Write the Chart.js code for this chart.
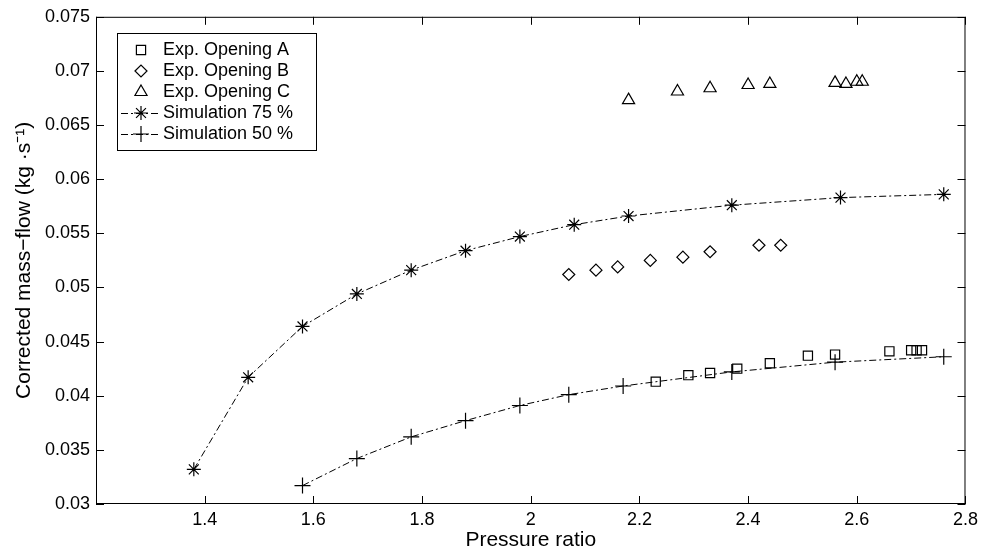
<!DOCTYPE html>
<html>
<head>
<meta charset="utf-8">
<script src="https://cdn.jsdelivr.net/npm/chart.js@4.4.1/dist/chart.umd.min.js"></script>
<style>
  html, body { margin: 0; padding: 0; background: #fff; }
  #wrap { width: 983px; height: 553px; }
</style>
</head>
<body>
<div id="wrap"><canvas id="chart"></canvas></div>
<script>
// pressure ratio / corrected mass-flow
const expAX = [2.23, 2.29, 2.33, 2.38, 2.44, 2.51, 2.56, 2.66, 2.70, 2.71, 2.72];
const expAY = [0.0413, 0.0419, 0.0421, 0.0425, 0.0430, 0.0437, 0.0438, 0.0441, 0.0442, 0.0442, 0.0442];

const expBX = [2.07, 2.12, 2.16, 2.22, 2.28, 2.33, 2.42, 2.46];
const expBY = [0.0512, 0.0516, 0.0519, 0.0525, 0.0528, 0.0533, 0.0539, 0.0539];

const expCX = [2.18, 2.27, 2.33, 2.40, 2.44, 2.56, 2.58, 2.60, 2.61];
const expCY = [0.0673, 0.0681, 0.0684, 0.0687, 0.0688, 0.0689, 0.0688, 0.0690, 0.0690];

const sim75X = [1.38, 1.48, 1.58, 1.68, 1.78, 1.88, 1.98, 2.08, 2.18, 2.37, 2.57, 2.76];
const sim75Y = [0.0332, 0.0417, 0.0464, 0.0494, 0.0516, 0.0534, 0.0547, 0.0558, 0.0566, 0.0576, 0.0583, 0.0586];

const sim50X = [1.58, 1.68, 1.78, 1.88, 1.98, 2.07, 2.17, 2.37, 2.56, 2.76];
const sim50Y = [0.0317, 0.0342, 0.0362, 0.0377, 0.0391, 0.0401, 0.0409, 0.0422, 0.0431, 0.0436];

const seriesLabels = ['Exp. Opening A', 'Exp. Opening B', 'Exp. Opening C', 'Simulation 75 %', 'Simulation 50 %'];

const FONT = '"Liberation Sans", Arial, Helvetica, sans-serif';
const TICK_LEN = 8;

function pts(xs, ys) {
  return xs.map((x, i) => ({ x: x, y: ys[i] }));
}

function series(label, data, style, radius, line) {
  return {
    label: label,
    data: data,
    showLine: line,
    borderColor: '#000',
    borderWidth: 1,
    borderDash: [7, 3, 2, 3],
    backgroundColor: 'rgba(0,0,0,0)',
    pointStyle: style,
    pointRadius: radius,
    pointHoverRadius: radius,
    pointBorderWidth: 1.2,
    pointBorderColor: '#000',
    pointBackgroundColor: 'rgba(0,0,0,0)',
    tension: 0
  };
}

// box round the plot with inward ticks on all four sides
const boxTicks = {
  id: 'boxTicks',
  afterDraw(chart) {
    const { ctx, chartArea: a, scales: { x, y } } = chart;
    ctx.save();
    ctx.strokeStyle = '#000';
    ctx.lineWidth = 1;
    ctx.setLineDash([]);
    ctx.strokeRect(a.left + 0.5, a.top + 0.5, a.right - a.left - 1, a.bottom - a.top - 1);
    ctx.beginPath();
    x.ticks.forEach(t => {
      const px = Math.round(x.getPixelForValue(t.value)) + 0.5;
      ctx.moveTo(px, a.bottom); ctx.lineTo(px, a.bottom - TICK_LEN);
      ctx.moveTo(px, a.top); ctx.lineTo(px, a.top + TICK_LEN);
    });
    y.ticks.forEach(t => {
      const py = Math.round(y.getPixelForValue(t.value)) + 0.5;
      ctx.moveTo(a.left, py); ctx.lineTo(a.left + TICK_LEN, py);
      ctx.moveTo(a.right, py); ctx.lineTo(a.right - TICK_LEN, py);
    });
    ctx.stroke();
    ctx.restore();
  }
};

// legend box in the upper left corner, like the matlab one
const boxLegend = {
  id: 'boxLegend',
  afterDraw(chart) {
    const ctx = chart.ctx;
    const left = 117, top = 33, width = 199, rowH = 21;
    const sets = chart.data.datasets;
    ctx.save();
    ctx.fillStyle = '#fff';
    ctx.fillRect(left, top, width, sets.length * rowH + 12);
    ctx.strokeStyle = '#000';
    ctx.lineWidth = 1;
    ctx.strokeRect(left + 0.5, top + 0.5, width, sets.length * rowH + 12);
    sets.forEach((ds, i) => {
      const cy = top + 17 + i * rowH;
      ctx.strokeStyle = '#000';
      if (ds.showLine) {
        ctx.lineWidth = 1;
        ctx.setLineDash(ds.borderDash);
        ctx.beginPath();
        ctx.moveTo(left + 4, cy + 0.5);
        ctx.lineTo(left + 44, cy + 0.5);
        ctx.stroke();
      }
      ctx.setLineDash([]);
      ctx.lineWidth = ds.pointBorderWidth;
      ctx.fillStyle = 'rgba(0,0,0,0)';
      Chart.helpers.drawPoint(ctx, {
        pointStyle: ds.pointStyle,
        radius: ds.pointRadius,
        borderWidth: ds.pointBorderWidth,
        rotation: 0
      }, left + 24, cy);
      ctx.fillStyle = '#000';
      ctx.font = '18px ' + FONT;
      ctx.textBaseline = 'middle';
      ctx.textAlign = 'left';
      ctx.fillText(ds.label, left + 46, cy);
    });
    ctx.restore();
  }
};

new Chart(document.getElementById('chart').getContext('2d'), {
  type: 'scatter',
  data: {
    datasets: [
      series(seriesLabels[0], pts(expAX, expAY), 'rect', 6.5, false),
      series(seriesLabels[1], pts(expBX, expBY), 'rectRot', 6, false),
      series(seriesLabels[2], pts(expCX, expCY), 'triangle', 7, false),
      series(seriesLabels[3], pts(sim75X, sim75Y), 'star', 7, true),
      series(seriesLabels[4], pts(sim50X, sim50Y), 'cross', 8, true)
    ]
  },
  options: {
    responsive: true, maintainAspectRatio: false,
    animation: false,
    layout: { padding: { top: 12, right: 17, left: 0, bottom: 0 } },
    plugins: { legend: { display: false }, tooltip: { enabled: false } },
    scales: {
      x: {
        type: 'linear',
        min: 1.2, max: 2.8,
        afterFit(scale) { scale.height = 49; },
        grid: { drawOnChartArea: false, drawTicks: false },
        border: { display: false },
        ticks: {
          stepSize: 0.2,
          padding: 5,
          color: '#000',
          font: { family: FONT, size: 18 },
          maxRotation: 0,
          callback: v => (Math.abs(v - 1.2) < 1e-6 ? '' : String(Math.round(v * 10) / 10))
        },
        title: {
          display: true,
          text: 'Pressure ratio',
          color: '#000',
          font: { family: FONT, size: 21 },
          padding: { top: 0, bottom: 0 }
        }
      },
      y: {
        type: 'linear',
        min: 0.03, max: 0.075,
        afterFit(scale) { scale.width = 96; },
        grid: { drawOnChartArea: false, drawTicks: false },
        border: { display: false },
        ticks: {
          stepSize: 0.005,
          padding: 6,
          color: '#000',
          font: { family: FONT, size: 18 },
          callback: v => String(+v.toFixed(3))
        },
        title: {
          display: true,
          text: 'Corrected mass\u2212flow (kg \u00b7s\u207b\u00b9)',
          color: '#000',
          font: { family: FONT, size: 21 },
          padding: { top: 12, bottom: 0 }
        }
      }
    }
  },
  plugins: [boxTicks, boxLegend]
});
</script>
</body>
</html>
